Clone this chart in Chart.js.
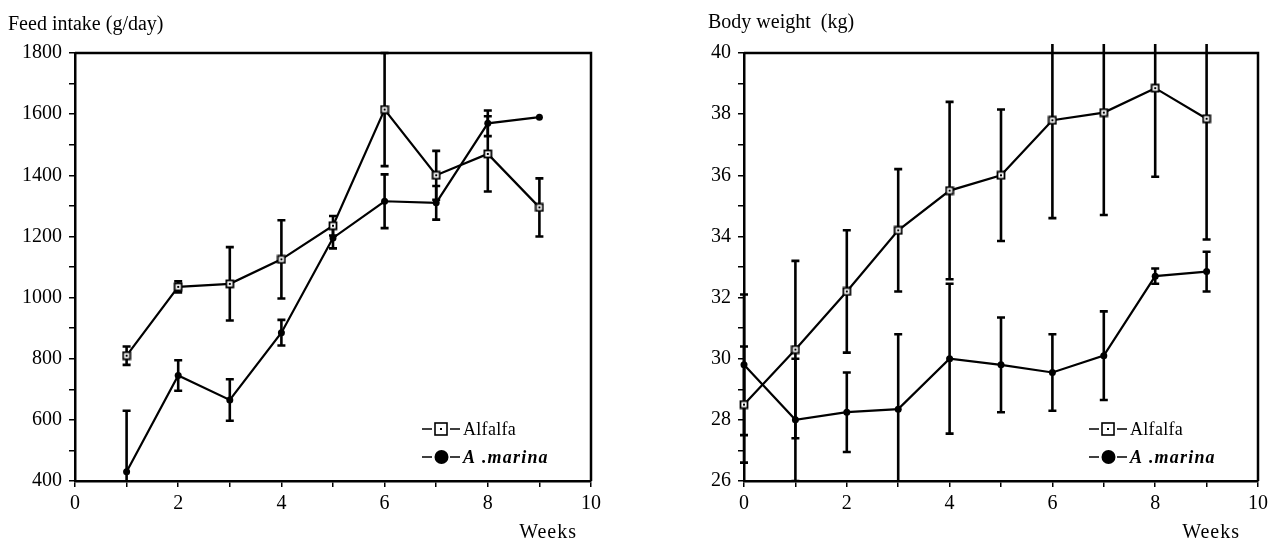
<!DOCTYPE html>
<html><head><meta charset="utf-8">
<script src="https://cdn.jsdelivr.net/npm/chart.js@4.4.1/dist/chart.umd.min.js"></script>
<style>
html,body{margin:0;padding:0;background:#fff;}
#wrap{position:relative;width:1273px;height:544px;overflow:hidden;}
.box{position:absolute;top:0;height:544px;}
canvas{display:block;}
</style></head><body>
<div id="wrap">
<div class="box" style="left:0;width:636px"><canvas id="c1" width="636" height="544"></canvas></div>
<div class="box" style="left:636px;width:637px"><canvas id="c2" width="637" height="544"></canvas></div>
</div>
<script>
// ---------- data ----------
const seriesNames = ['Alfalfa', 'A .marina'];

// Feed intake (g/day), weeks 1-9
const weeksFeed = [1, 2, 3, 4, 5, 6, 7, 8, 9];
const alfalfaFeed = [810, 1035, 1045, 1125, 1235, 1615, 1400, 1470, 1295];
const alfalfaFeedErr = [30, 18, 120, 128, 32, 185, 80, 123, 95];
const marinaFeed = [430, 745, 665, 885, 1195, 1315, 1310, 1570, 1590];
const marinaFeedErr = [200, 50, 68, 42, 34, 88, 55, 42, 0];
const feedTickMin = 400, feedTickMax = 1800;

// Body weight (kg), weeks 0-9
const weeksBW = [0, 1, 2, 3, 4, 5, 6, 7, 8, 9];
const alfalfaBW = [28.5, 30.3, 32.2, 34.2, 35.5, 36.0, 37.8, 38.05, 38.85, 37.85];
const alfalfaBWErr = [1.9, 2.9, 2.0, 2.0, 2.9, 2.15, 3.2, 3.35, 2.9, 3.95];
const marinaBW = [29.8, 28.0, 28.25, 28.35, 30.0, 29.8, 29.55, 30.1, 32.7, 32.85];
const marinaBWErr = [2.3, 2.0, 1.3, 2.45, 2.45, 1.55, 1.25, 1.45, 0.25, 0.65];
const bwTickMin = 26, bwTickMax = 40;

const weekMin = 0, weekMax = 10;

// ---------- styling helpers ----------
const SERIF = "'Liberation Serif', 'Times New Roman', serif";

function squareMarker(size) {
  const c = document.createElement('canvas');
  c.width = size; c.height = size;
  const g = c.getContext('2d');
  g.fillStyle = '#fff'; g.fillRect(1, 1, size - 2, size - 2);
  g.strokeStyle = '#000'; g.lineWidth = 1.8;
  g.strokeRect(1.5, 1.5, size - 3, size - 3);
  g.fillStyle = '#000';
  g.fillRect(size / 2 - 1, size / 2 - 1, 2, 2);
  return c;
}
const sqImg = squareMarker(10);

function pts(xs, ys) { return xs.map((x, i) => ({x: x, y: ys[i]})); }

const errorBars = {
  id: 'errorBars',
  beforeDatasetsDraw(chart, args, o) {
    const {ctx, chartArea: a, scales: {x, y}} = chart;
    ctx.save();
    ctx.beginPath();
    ctx.rect(a.left - 20, a.top - o.overTop, a.width + 40, a.height + o.overTop);
    ctx.clip();
    ctx.strokeStyle = '#000';
    ctx.lineWidth = o.width;
    chart.data.datasets.forEach(ds => {
      const err = ds.errors;
      if (!err) return;
      ds.data.forEach((p, j) => {
        const e = err[j];
        if (!e) return;
        const px = x.getPixelForValue(p.x);
        const yt = y.getPixelForValue(p.y + e);
        const yb = y.getPixelForValue(p.y - e);
        ctx.beginPath();
        ctx.moveTo(px, yt); ctx.lineTo(px, yb);
        ctx.moveTo(px - o.cap, yt); ctx.lineTo(px + o.cap, yt);
        ctx.moveTo(px - o.cap, yb); ctx.lineTo(px + o.cap, yb);
        ctx.stroke();
      });
    });
    ctx.restore();
  }
};

const frame = {
  id: 'frame',
  beforeDatasetsDraw(chart, args, o) {
    const {ctx, chartArea: a} = chart;
    ctx.save();
    ctx.strokeStyle = '#000';
    ctx.lineWidth = o.width;
    ctx.beginPath();
    ctx.moveTo(a.left, a.top);
    ctx.lineTo(a.right, a.top);
    ctx.lineTo(a.right, a.bottom);
    ctx.stroke();
    ctx.restore();
  }
};

const keyBox = {
  id: 'keyBox',
  afterDraw(chart, args, o) {
    const {ctx, chartArea: a} = chart;
    const x0 = a.right - o.fromRight;
    const rows = [a.bottom - o.row1, a.bottom - o.row2];
    ctx.save();
    ctx.strokeStyle = '#000';
    ctx.fillStyle = '#000';
    ctx.lineWidth = 1.6;
    const order = [1, 0]; // Alfalfa first row, A .marina second row
    order.forEach((di, r) => {
      const ds = chart.data.datasets[di];
      const yy = rows[r];
      ctx.beginPath();
      ctx.moveTo(x0, yy); ctx.lineTo(x0 + 10, yy);
      ctx.moveTo(x0 + 28, yy); ctx.lineTo(x0 + 38, yy);
      ctx.stroke();
      if (di === 1) {
        ctx.fillStyle = '#fff';
        ctx.fillRect(x0 + 13, yy - 6, 12, 12);
        ctx.strokeRect(x0 + 13, yy - 6, 12, 12);
        ctx.fillStyle = '#000';
        ctx.fillRect(x0 + 18, yy - 1, 2, 2);
        ctx.font = "18px " + SERIF;
        ctx.letterSpacing = '0.3px';
      } else {
        ctx.beginPath();
        ctx.arc(x0 + 19.5, yy, 7, 0, Math.PI * 2);
        ctx.fill();
        ctx.font = "italic bold 18px " + SERIF;
        ctx.letterSpacing = '1.2px';
      }
      ctx.textAlign = 'left';
      ctx.textBaseline = 'middle';
      ctx.fillText(ds.label, x0 + 41, yy + 1);
    });
    // axis caption "Weeks"
    ctx.letterSpacing = '1px';
    ctx.font = "20px " + SERIF;
    ctx.textAlign = 'right';
    ctx.textBaseline = 'middle';
    ctx.fillText(o.xCaption, a.right - o.captionInset, a.bottom + 52);
    ctx.restore();
  }
};

function axisCommon() {
  return {
    grid: {drawOnChartArea: false, drawTicks: true, tickLength: 6, color: '#000', lineWidth: 1.5},
    border: {display: true, color: '#000', width: 2.5},
  };
}

function makeChart(id, cfg) {
  const xs = axisCommon(), ys = axisCommon();
  return new Chart(document.getElementById(id), {
    type: 'line',
    data: {
      datasets: [
        {label: seriesNames[1], data: cfg.marina, errors: cfg.marinaErr,
         borderColor: '#000', backgroundColor: '#000', borderWidth: 2.2,
         pointStyle: 'circle', pointRadius: 3.5, pointBorderWidth: 0,
         tension: 0, clip: false},
        {label: seriesNames[0], data: cfg.alfalfa, errors: cfg.alfalfaErr,
         borderColor: '#000', backgroundColor: '#fff', borderWidth: 2.2,
         pointStyle: sqImg, pointRadius: 5,
         tension: 0, clip: false}
      ]
    },
    options: {
      responsive: false,
      animation: false,
      devicePixelRatio: 1,
      layout: {padding: {left: cfg.padLeft, right: cfg.padRight, top: 0, bottom: 0}},
      plugins: {
        legend: {display: false},
        tooltip: {enabled: false},
        title: {display: true, text: cfg.title, align: 'start', color: '#000',
                font: {family: SERIF, size: 20, weight: 'normal'},
                padding: {top: cfg.titleTop, bottom: 53 - cfg.titleTop - 24}},
        errorBars: {width: 2.6, cap: 4, overTop: 9},
        frame: {width: 2.5},
        keyBox: {fromRight: 169, row1: 52, row2: 24, xCaption: 'Weeks', captionInset: cfg.captionInset}
      },
      scales: {
        x: Object.assign(xs, {
          type: 'linear', min: weekMin, max: weekMax,
          afterFit(s) { s.height = 63; },
          ticks: {stepSize: 1, color: '#000', padding: 5, maxRotation: 0, autoSkip: false,
                  font: {family: SERIF, size: 20},
                  callback: v => (v % 2 === 0 ? String(v) : '')}
        }),
        y: Object.assign(ys, {
          type: 'linear', min: cfg.yMin, max: cfg.yMax,
          afterFit(s) { s.width = cfg.yWidth; },
          ticks: {stepSize: cfg.yStep, color: '#000', padding: 7, autoSkip: false,
                  font: {family: SERIF, size: 20},
                  callback: v => (Math.round(v / cfg.yStep) % 2 === 0 ? String(v) : '')}
        })
      }
    },
    plugins: [errorBars, frame, keyBox]
  });
}

makeChart('c1', {
  title: 'Feed intake (g/day)',
  alfalfa: pts(weeksFeed, alfalfaFeed), alfalfaErr: alfalfaFeedErr,
  marina: pts(weeksFeed, marinaFeed), marinaErr: marinaFeedErr,
  yMin: feedTickMin, yMax: feedTickMax, yStep: 100,
  padLeft: 8, padRight: 45, yWidth: 67, titleTop: 13, captionInset: 14
});

makeChart('c2', {
  title: 'Body weight  (kg)',
  alfalfa: pts(weeksBW, alfalfaBW), alfalfaErr: alfalfaBWErr,
  marina: pts(weeksBW, marinaBW), marinaErr: marinaBWErr,
  yMin: bwTickMin, yMax: bwTickMax, yStep: 1,
  padLeft: 72, padRight: 13, yWidth: 36, titleTop: 11, captionInset: 18
});
</script>
</body></html>
